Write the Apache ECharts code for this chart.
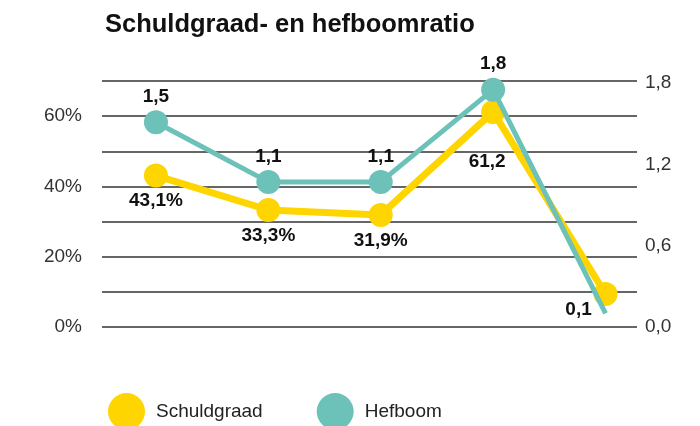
<!DOCTYPE html>
<html>
<head>
<meta charset="utf-8">
<script src="https://cdn.jsdelivr.net/npm/echarts@6/dist/echarts.min.js"></script>
<style>
  html, body { margin: 0; padding: 0; background: #fff; }
  #chart { width: 700px; height: 426px; }
</style>
</head>
<body>
<div id="chart"></div>
<script>
// data
var categories = ['1', '2', '3', '4', '5']
var schuldgraad = [43.1, 33.3, 31.9, 61.2, 9.4]
var schuldLabels = ['43,1%', '33,3%', '31,9%', '61,2', '0,1']
var hefboom = [1.51, 1.07, 1.07, 1.75, 0.1]
var hefboomLabels = ['1,5', '1,1', '1,1', '1,8', '']
var leftTicks = [0, 20, 40, 60]
var rightTicks = [0, 0.6, 1.2, 1.8]

var YELLOW = '#FFD500'
var TEAL = '#6CC1B9'
var FONT = 'Liberation Sans'

var chart = echarts.init(document.getElementById('chart'))

function comma (v) {
  return v.toFixed(1).replace('.', ',')
}

var schuldData = categories.map(function (c, i) {
  var item = { value: [i, schuldgraad[i]] }
  if (i === 3) item.label = { offset: [-6, 24] }
  if (i === 4) item.label = { offset: [-27, -10] }
  return item
})

var hefboomData = categories.map(function (c, i) {
  var item = { value: [i, hefboom[i]] }
  if (i === 4) item.symbolSize = 0
  return item
})

chart.setOption({
  animation: false,
  title: {
    text: 'Schuldgraad- en hefboomratio',
    left: 100,
    top: 7,
    textStyle: {
      fontFamily: FONT,
      fontWeight: 'bold',
      fontSize: 25.5,
      color: '#111'
    }
  },
  legend: {
    left: 103,
    top: 388,
    icon: 'circle',
    itemWidth: 37,
    itemHeight: 37,
    itemGap: 54,
    textStyle: {
      fontFamily: FONT,
      fontSize: 19,
      color: '#222',
      padding: [0, 0, 0, 6]
    },
    data: ['Schuldgraad', 'Hefboom']
  },
  grid: {
    left: 102,
    right: 63,
    top: 81,
    bottom: 99
  },
  xAxis: {
    type: 'value',
    min: -0.48,
    max: 4.28,
    show: false
  },
  yAxis: [{
    type: 'value',
    min: 0,
    max: 70,
    interval: 10,
    axisLine: { show: false },
    axisTick: { show: false },
    splitLine: {
      lineStyle: { color: '#333', width: 1.5 }
    },
    axisLabel: {
      margin: 20,
      fontFamily: FONT,
      fontSize: 19,
      color: '#333',
      formatter: function (v) {
        return leftTicks.indexOf(v) > -1 ? v + '%' : ''
      }
    }
  }, {
    type: 'value',
    min: 0,
    max: 1.814,
    interval: 0.6,
    axisLine: { show: false },
    axisTick: { show: false },
    splitLine: { show: false },
    axisLabel: {
      margin: 8,
      fontFamily: FONT,
      fontSize: 19,
      color: '#333',
      showMaxLabel: false,
      formatter: function (v) {
        var hit = rightTicks.some(function (t) { return Math.abs(t - v) < 1e-6 })
        return hit ? comma(v) : ''
      }
    }
  }],
  series: [{
    name: 'Schuldgraad',
    type: 'line',
    yAxisIndex: 0,
    data: schuldData,
    symbol: 'circle',
    symbolSize: 24,
    color: YELLOW,
    lineStyle: { color: YELLOW, width: 7 },
    itemStyle: { color: YELLOW },
    label: {
      show: true,
      position: 'bottom',
      distance: 4,
      fontFamily: FONT,
      fontWeight: 'bold',
      fontSize: 19,
      color: '#111',
      formatter: function (p) { return schuldLabels[p.dataIndex] }
    },
    z: 2
  }, {
    name: 'Hefboom',
    type: 'line',
    yAxisIndex: 1,
    data: hefboomData,
    symbol: 'circle',
    symbolSize: 24,
    color: TEAL,
    lineStyle: { color: TEAL, width: 5 },
    itemStyle: { color: TEAL },
    label: {
      show: true,
      position: 'top',
      distance: 4,
      fontFamily: FONT,
      fontWeight: 'bold',
      fontSize: 19,
      color: '#111',
      formatter: function (p) { return hefboomLabels[p.dataIndex] }
    },
    z: 3
  }]
})
</script>
</body>
</html>
